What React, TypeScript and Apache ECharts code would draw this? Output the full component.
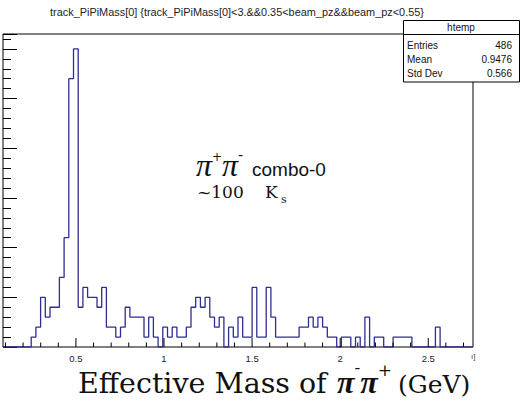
import React, { useEffect, useRef } from "react";
import * as echarts from "echarts";

// ---- data ----
const X_MIN = 0.086;
const X_MAX = 2.754;
const N_BINS = 100;
const Y_MAX = 63;
const binCounts = [
  0, 0, 0, 0, 0, 0, 2, 4, 10, 6,
  8, 8, 14, 22, 54, 60, 8, 12, 10, 10,
  8, 12, 4, 4, 2, 4, 8, 6, 6, 6,
  2, 6, 2, 0, 4, 2, 4, 2, 2, 4,
  8, 10, 8, 10, 6, 4, 6, 0, 4, 2,
  6, 2, 2, 12, 2, 2, 12, 6, 2, 2,
  2, 2, 2, 4, 4, 6, 4, 6, 4, 2,
  2, 0, 2, 2, 0, 2, 0, 6, 0, 2,
  2, 0, 0, 2, 2, 2, 2, 0, 0, 0,
  0, 0, 4, 0, 0, 0, 0, 0, 0, 0,
];
const xTickValues = [
  0.1, 0.2, 0.3, 0.4, 0.5, 0.6, 0.7, 0.8, 0.9, 1.0,
  1.1, 1.2, 1.3, 1.4, 1.5, 1.6, 1.7, 1.8, 1.9, 2.0,
  2.1, 2.2, 2.3, 2.4, 2.5, 2.6, 2.7,
];
const xMajorTicks = [0.5, 1, 1.5, 2, 2.5];
const xTickLabels = ["0.5", "1", "1.5", "2", "2.5"];
const Y_MAJOR = 10;
const Y_MINOR = 2;
const histName = "htemp";
const statsLabels = ["Entries", "Mean", "Std Dev"];
const statsValues = ["486", "0.9476", "0.566"];
const titleText =
  "track_PiPiMass[0] {track_PiPiMass[0]<3.&&0.35<beam_pz&&beam_pz<0.55}";

const HIST_COLOR = "#2e2e8e";
const SANS = '"Liberation Sans", Arial, sans-serif';
const SERIF = '"DejaVu Serif", serif';
const TIMES = '"Liberation Serif", serif';

let measureCtx: CanvasRenderingContext2D | null = null;
function measure(text: string, font: string): number {
  if (!measureCtx) measureCtx = document.createElement("canvas").getContext("2d");
  measureCtx!.font = font;
  return measureCtx!.measureText(text).width;
}

function txt(
  text: string,
  x: number,
  y: number,
  font: string,
  align: string = "left",
  fill: string = "#111"
) {
  return {
    type: "text",
    x,
    y,
    z: 100,
    silent: true,
    style: {
      text,
      font,
      fill,
      align,
      textAlign: align,
      verticalAlign: "middle",
      textVerticalAlign: "middle",
    },
  };
}

// place text so that its baseline is at `base`
function onBase(text: string, x: number, base: number, size: number, font: string, align = "left", fill = "#111") {
  return txt(text, x, base - 0.346 * size, font, align, fill);
}

type Piece = { text: string; size: number; font: string; dy: number };
function chain(x0: number, base: number, pieces: Piece[]) {
  const out: any[] = [];
  let x = x0;
  for (const p of pieces) {
    out.push(onBase(p.text, x, base + p.dy, p.size, p.font));
    x += measure(p.text, p.font);
  }
  return out;
}

export default function App() {
  const ref = useRef<HTMLDivElement>(null);

  useEffect(() => {
    const chart = echarts.init(ref.current!, null, { renderer: "svg" });
    const binW = (X_MAX - X_MIN) / N_BINS;
    const stepData: number[][] = binCounts.map((c, i) => [X_MIN + i * binW, c]);
    stepData.push([X_MAX, binCounts[N_BINS - 1]]);

    const piIt = `italic 32px ${TIMES}`;
    const piBI = `bold italic 32px ${TIMES}`;

    const option: any = {
      animation: false,
      grid: {
        left: 3,
        right: 47,
        top: 34,
        bottom: 64,
        show: true,
        borderColor: "#000",
        borderWidth: 1,
        backgroundColor: "transparent",
      },
      xAxis: {
        type: "value",
        min: X_MIN,
        max: X_MAX,
        show: false,
      },
      yAxis: [
        {
          type: "value",
          min: 0,
          max: Y_MAX,
          interval: Y_MAJOR,
          axisLine: { show: false },
          axisTick: { show: true, inside: true, length: 14, lineStyle: { color: "#000", width: 1 } },
          axisLabel: { show: false },
          splitLine: { show: false },
        },
        {
          type: "value",
          min: 0,
          max: Y_MAX,
          interval: Y_MINOR,
          position: "left",
          offset: 0,
          axisLine: { show: false },
          axisTick: { show: true, inside: true, length: 8, lineStyle: { color: "#000", width: 1 } },
          axisLabel: { show: false },
          splitLine: { show: false },
        },
      ],
      series: [
        {
          type: "line",
          data: stepData,
          step: "end",
          showSymbol: false,
          symbol: "none",
          lineStyle: { color: HIST_COLOR, width: 1.3 },
          xAxisIndex: 0,
          yAxisIndex: 0,
          silent: true,
          z: 3,
        },
        {
          type: "custom",
          xAxisIndex: 0,
          yAxisIndex: 0,
          silent: true,
          clip: false,
          z: 5,
          data: xTickValues.map((v) => [v, 0]),
          renderItem: (params: any, api: any) => {
            const v = api.value(0) as number;
            const p = api.coord([v, 0]);
            const mIdx = xMajorTicks.findIndex((m) => Math.abs(m - v) < 1e-6);
            const major = mIdx >= 0;
            const len = major ? 9 : 4.5;
            const children: any[] = [
              {
                type: "line",
                shape: { x1: p[0], y1: p[1], x2: p[0], y2: p[1] - len },
                style: { stroke: "#000", lineWidth: 1 },
              },
            ];
            if (major) {
              children.push({
                type: "text",
                x: p[0],
                y: p[1] + 11,
                style: {
                  text: xTickLabels[mIdx],
                  font: `9.5px ${SANS}`,
                  fill: "#222",
                  align: "center",
                  textAlign: "center",
                  verticalAlign: "middle",
                  textVerticalAlign: "middle",
                },
              });
            }
            return { type: "group", children };
          },
        },
      ],
      graphic: [
        txt(titleText, 237, 12, `10.9px ${SANS}`, "center", "#222"),
        // stats box
        {
          type: "rect",
          z: 99,
          silent: true,
          shape: { x: 403.5, y: 20.5, width: 116, height: 61.5 },
          style: { fill: "#fff", stroke: "#000", lineWidth: 1 },
        },
        {
          type: "line",
          z: 100,
          silent: true,
          shape: { x1: 403.5, y1: 34.5, x2: 519.5, y2: 34.5 },
          style: { stroke: "#000", lineWidth: 1 },
        },
        txt(histName, 461, 27.5, `10px ${SANS}`, "center"),
        ...statsLabels.map((s, i) => txt(s, 407, 45 + i * 14, `10px ${SANS}`, "left")),
        ...statsValues.map((s, i) => txt(s, 512, 45 + i * 14, `10px ${SANS}`, "right")),
        // annotation: pi+ pi- combo-0
        ...chain(196, 176, [
          { text: "π", size: 32, font: piIt, dy: 0 },
          { text: "+", size: 12, font: `12px ${SERIF}`, dy: -15 },
          { text: "π", size: 32, font: piIt, dy: 0 },
          { text: "-", size: 15, font: `15px ${SERIF}`, dy: -16 },
        ]),
        onBase("combo-0", 252, 176, 19, `19px ${SANS}`),
        onBase("~100", 197, 198, 17, `17px ${SERIF}`),
        onBase("K", 265, 198, 17, `17px ${SERIF}`),
        onBase("s", 281, 203, 11, `11px ${SERIF}`),
        // x-axis title
        onBase("Effective Mass of", 78, 393, 28.5, `28.5px ${SERIF}`),
        ...chain(337, 393, [
          { text: "π", size: 32, font: piBI, dy: 0 },
          { text: "-", size: 17, font: `17px ${SERIF}`, dy: -20 },
          { text: "π", size: 32, font: piBI, dy: 0 },
          { text: "+", size: 17, font: `17px ${SERIF}`, dy: -17 },
        ]),
        onBase("(GeV)", 398, 393, 25, `25px ${SERIF}`),
        txt("ı]", 471, 356, `8px ${SANS}`, "left", "#444"),
      ],
    };

    chart.setOption(option);
    return () => chart.dispose();
  }, []);

  return (
    <div
      ref={ref}
      style={{ position: "absolute", left: 0, top: 0, width: 520, height: 411, background: "#fff" }}
    />
  );
}
